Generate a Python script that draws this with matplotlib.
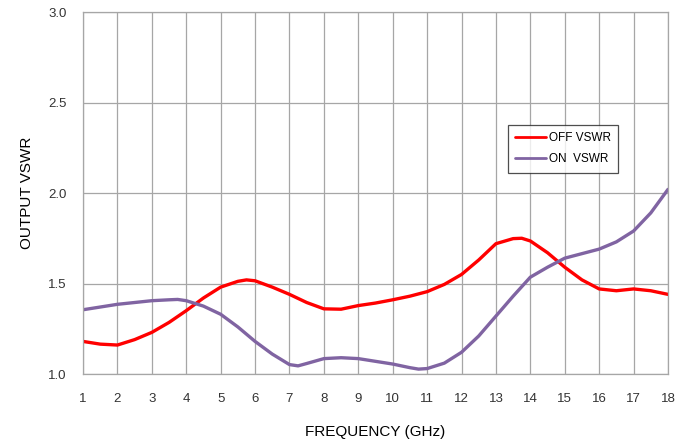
import matplotlib
matplotlib.use('Agg')
import matplotlib.pyplot as plt

# frequency (GHz) (mostly 0.5 GHz steps, extra points at the turns)
off_freq = [1, 1.5, 2, 2.5, 3, 3.5, 4, 4.5, 5, 5.5, 5.75, 6, 6.5, 7, 7.5, 8, 8.5, 9, 9.5,
            10, 10.5, 11, 11.5, 12, 12.5, 13, 13.5, 13.75, 14, 14.5, 15, 15.5, 16, 16.5,
            17, 17.5, 18]
off_vswr = [1.18, 1.165, 1.16, 1.19, 1.23, 1.285, 1.35, 1.42, 1.48, 1.512, 1.52, 1.515,
            1.48, 1.44, 1.395, 1.36, 1.358, 1.378, 1.392, 1.41, 1.43, 1.455, 1.495, 1.55,
            1.63, 1.72, 1.748, 1.75, 1.735, 1.67, 1.59, 1.52, 1.47, 1.46, 1.47, 1.46, 1.44]

on_freq = [1, 1.5, 2, 2.5, 3, 3.5, 3.75, 4, 4.5, 5, 5.5, 6, 6.5, 7, 7.25, 7.5, 8, 8.5,
           9, 9.5, 10, 10.5, 10.75, 11, 11.5, 12, 12.5, 13, 13.5, 14, 14.5, 15, 15.5, 16,
           16.5, 17, 17.5, 18]
on_vswr = [1.355, 1.37, 1.385, 1.395, 1.405, 1.41, 1.412, 1.405, 1.375, 1.33, 1.26, 1.18,
           1.11, 1.052, 1.045, 1.058, 1.085, 1.09, 1.085, 1.07, 1.055, 1.035, 1.027, 1.03,
           1.06, 1.12, 1.21, 1.32, 1.43, 1.535, 1.59, 1.64, 1.665, 1.69, 1.73, 1.79, 1.89,
           2.02]

xticks = list(range(1, 19))
yticks = [1.0, 1.5, 2.0, 2.5, 3.0]

plt.rcParams['font.family'] = ['Liberation Sans', 'DejaVu Sans']

fig = plt.figure(figsize=(6.89, 4.40), dpi=100)
ax = fig.add_axes([0.1205, 0.15, 0.849, 0.8227])

ax.plot(off_freq, off_vswr, color='#ff0000', lw=2.4, label='OFF VSWR',
        solid_capstyle='round', solid_joinstyle='round')
ax.plot(on_freq, on_vswr, color='#8064a2', lw=2.4, label='ON  VSWR',
        solid_capstyle='round', solid_joinstyle='round')

ax.set_xlim(1, 18)
ax.set_ylim(1.0, 3.0)
ax.set_xticks(xticks)
ax.set_yticks(yticks)
ax.set_yticklabels([f'{v:.1f}' for v in yticks])
ax.grid(True, color='#a6a6a6', lw=0.9)
ax.set_axisbelow(True)
ax.tick_params(length=0, labelsize=9.5, colors='#333333')
ax.tick_params(axis='x', pad=14)
ax.tick_params(axis='y', pad=12)
for s in ax.spines.values():
    s.set_color('#a6a6a6')
    s.set_linewidth(0.9)

ax.set_xlabel('FREQUENCY (GHz)', fontsize=11, labelpad=14)
ax.set_ylabel('OUTPUT VSWR', fontsize=11, labelpad=10)

leg = ax.legend(loc='upper left', bbox_to_anchor=(0.7265, 0.688), borderaxespad=0,
                fontsize=8.5, frameon=True, fancybox=False, edgecolor='#222222',
                handlelength=2.6, borderpad=0.6, labelspacing=0.8, handletextpad=0.3)
leg.get_frame().set_linewidth(0.9)
for line in leg.get_lines():
    line.set_linewidth(2.0)

fig.savefig('out.png', dpi=100)
